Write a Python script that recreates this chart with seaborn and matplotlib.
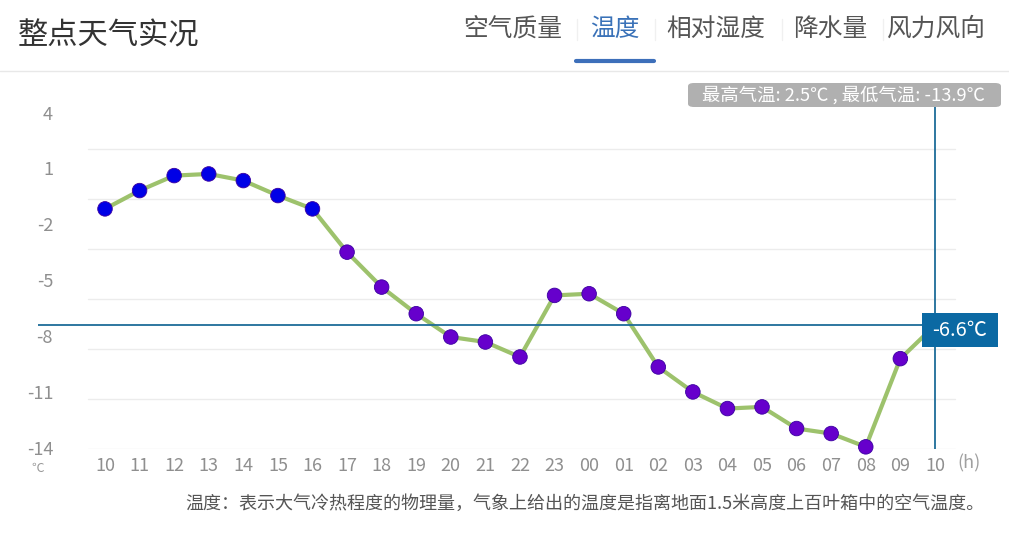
import matplotlib
matplotlib.use("Agg")
import matplotlib.pyplot as plt
from matplotlib.patches import FancyBboxPatch
import seaborn as sns
import pandas as pd
import numpy as np

# ---- data ----
hours = ["10", "11", "12", "13", "14", "15", "16", "17", "18", "19", "20", "21", "22",
         "23", "00", "01", "02", "03", "04", "05", "06", "07", "08", "09", "10"]
temps = [0.4, 1.5, 2.4, 2.5, 2.1, 1.2, 0.4, -2.2, -4.3, -5.9, -7.3, -7.6, -8.5,
         -4.8, -4.7, -5.9, -9.1, -10.6, -11.6, -11.5, -12.8, -13.1, -13.9, -8.6, -6.6]
y_labels = [-14, -11, -8, -5, -2, 1, 4]
tabs = ["空气质量", "温度", "相对湿度", "降水量", "风力风向"]
title = "整点天气实况"
note = "温度：表示大气冷热程度的物理量，气象上给出的温度是指离地面1.5米高度上百叶箱中的空气温度。"
current = -6.6
t_max, t_min = 2.5, -13.9

sns.set_theme(style="white")
plt.rcParams["font.family"] = ["Noto Sans CJK SC", "DejaVu Sans"]

W, H = 1009, 534
fig = plt.figure(figsize=(W / 100, H / 100), dpi=100)

def fx(px):
    return px / W

def fy(py):
    return 1 - py / H

# axes placement (pixels)
L, R, T, B = 38, 960, 100, 449
ax = fig.add_axes([fx(L), fy(B), fx(R - L), (B - T) / H])

x0_px, dx_px = 105, 34.58
ax.set_xlim(-(x0_px - L) / dx_px, 24 + (R - x0_px - 24 * dx_px) / dx_px)
ppd = 16.64
ax.set_ylim(-14 + (448.5 - B) / ppd, -14 + (448.5 - T) / ppd)

df = pd.DataFrame({"idx": np.arange(len(hours)), "temp": temps, "hour": hours})
df["kind"] = np.where(df["temp"] >= 0, "warm", "cold")

# grid lines
gx0 = (88 - x0_px) / dx_px
gx1 = (955 - x0_px) / dx_px
for v in y_labels:
    ax.plot([gx0, gx1], [v, v], color="#ececec", lw=1.0, zorder=0)

# line + points
sns.lineplot(data=df, x="idx", y="temp", color="#9dc26c", lw=3, ax=ax, zorder=2)
sns.scatterplot(data=df, x="idx", y="temp", hue="kind",
                palette={"warm": "#0000e6", "cold": "#6600cc"},
                s=110, edgecolor="#3a00a0", linewidth=0.6, legend=False,
                ax=ax, zorder=3, clip_on=False)

# crosshair
cross = "#1d6c98"
ax.axhline(current, color=cross, lw=1.3, zorder=4)
ax.axvline(df["idx"].iloc[-1], color=cross, lw=1.3, zorder=4)

# ticks
ax.set_xticks(df["idx"], hours)
ax.tick_params(axis="x", length=0, pad=6, labelsize=13, labelcolor="#8f8f8f")
ax.set_yticks([])
ax.set_xlabel("")
ax.set_ylabel("")
for s in ax.spines.values():
    s.set_visible(False)

# y labels (evenly spaced as in reference)
lab_step = 3.36
for k, v in enumerate(y_labels):
    ax.text(-(x0_px - 53) / dx_px, -14 - 0.09 + k * lab_step, str(v), ha="right",
            va="center", fontsize=13, color="#8f8f8f")
fig.text(fx(38), fy(468), "℃", ha="center", va="center", fontsize=9, color="#9a9a9a")
fig.text(fx(969), fy(463), "(h)", ha="center", va="center", fontsize=13, color="#a0a0a0")

# current value label
fig.patches.append(FancyBboxPatch((fx(922), fy(347)), fx(76), (347 - 313) / H,
                                  boxstyle="square,pad=0", transform=fig.transFigure,
                                  facecolor="#0b69a3", edgecolor="none", zorder=5))
fig.text(fx(960), fy(331), f"{current}℃", ha="center", va="center",
         fontsize=14.5, color="white", zorder=6)

# max/min label
fig.patches.append(FancyBboxPatch((fx(688), fy(107)), fx(313), (107 - 83) / H,
                                  boxstyle="round,pad=0,rounding_size=0.006",
                                  transform=fig.transFigure,
                                  facecolor="#b0b0b0", edgecolor="none", zorder=5))
fig.text(fx(844), fy(95), f"最高气温: {t_max}℃ , 最低气温: {t_min}℃", ha="center",
         va="center", fontsize=13.2, color="white", zorder=6)

# header
fig.text(fx(18), fy(36), title, ha="left", va="center", fontsize=21.8, color="#333333")
tab_x = [513, 615, 716, 830, 936]
for i, (t, x) in enumerate(zip(tabs, tab_x)):
    fig.text(fx(x), fy(29), t, ha="center", va="center", fontsize=17.8,
             color="#3a72b8" if t == "温度" else "#555555")
for sx in [577, 655, 782, 883]:
    fig.add_artist(plt.Line2D([fx(sx), fx(sx)], [fy(19), fy(40)], color="#f0f0f0",
                              lw=1, transform=fig.transFigure))
fig.add_artist(plt.Line2D([fx(576), fx(654)], [fy(60.5), fy(60.5)], color="#3d6fba",
                          lw=3, transform=fig.transFigure))
fig.add_artist(plt.Line2D([0, 1], [fy(71), fy(71)], color="#e8e8e8", lw=1,
                          transform=fig.transFigure))

# note
fig.text(fx(185), fy(504), note, ha="left", va="center", fontsize=13, color="#555555")

fig.savefig("out.png", dpi=100, facecolor="white")
